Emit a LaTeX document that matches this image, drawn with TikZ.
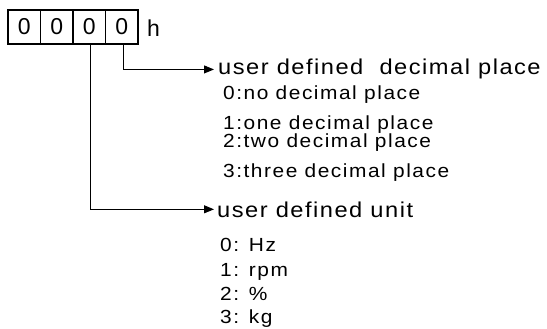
\documentclass[tikz,border=0pt]{standalone}
\usepackage{fontspec}
\setmainfont{Liberation Sans}
\newfontfamily\headfont[LetterSpace=7, FakeStretch=1.1]{Liberation Sans}
\newfontfamily\itemfont[LetterSpace=8, FakeStretch=1.1]{Liberation Sans}
\usetikzlibrary{arrows.meta}

\tikzset{
  digbox/.style={draw, line width=1.3pt, minimum width=32.5pt, minimum height=34pt, inner sep=0pt, font=\fontsize{23}{23}\selectfont},
  head/.style={anchor=base west, inner sep=0pt, font=\fontsize{21.5}{21.5}\selectfont\headfont},
  item/.style={anchor=base west, inner sep=0pt, font=\fontsize{19}{19}\selectfont\itemfont},
  link/.style={line width=1pt, -{Triangle[length=10pt,width=8pt]}}
}

\begin{document}
\begin{tikzpicture}[x=1pt, y=-1pt]
  \useasboundingbox (0,0) rectangle (547,329);
  % register value
  \foreach \i in {0,...,3}
    \node[digbox] (dig\i) at (24.25+32.5*\i,27) {0};
  \node[anchor=base west, inner sep=0pt, font=\fontsize{23}{23}\selectfont] (hex) at (147,37) {h};

  % decimal place
  \node[head] (dec) at (218,75) {user defined\ \ decimal place};
  \node[item] (dec0) at (223,100) {0:no decimal place};
  \node[item] (dec1) at (223,130) {1:one decimal place};
  \node[item] (dec2) at (223,148) {2:two decimal place};
  \node[item] (dec3) at (223,177) {3:three decimal place};

  % unit
  \node[head] (unit) at (217,217) {user defined unit};
  \node[item] (unit0) at (220,251) {0: Hz};
  \node[item] (unit1) at (220,276) {1: rpm};
  \node[item] (unit2) at (220,300) {2: \%};
  \node[item] (unit3) at (220,323) {3: kg};

  \draw[link] ([xshift=1.5pt]dig3.south) |- ([xshift=-4pt]dec.west);
  \draw[link] ([xshift=1.5pt]dig2.south) |- ([xshift=-3pt]unit.west);
\end{tikzpicture}
\end{document}
